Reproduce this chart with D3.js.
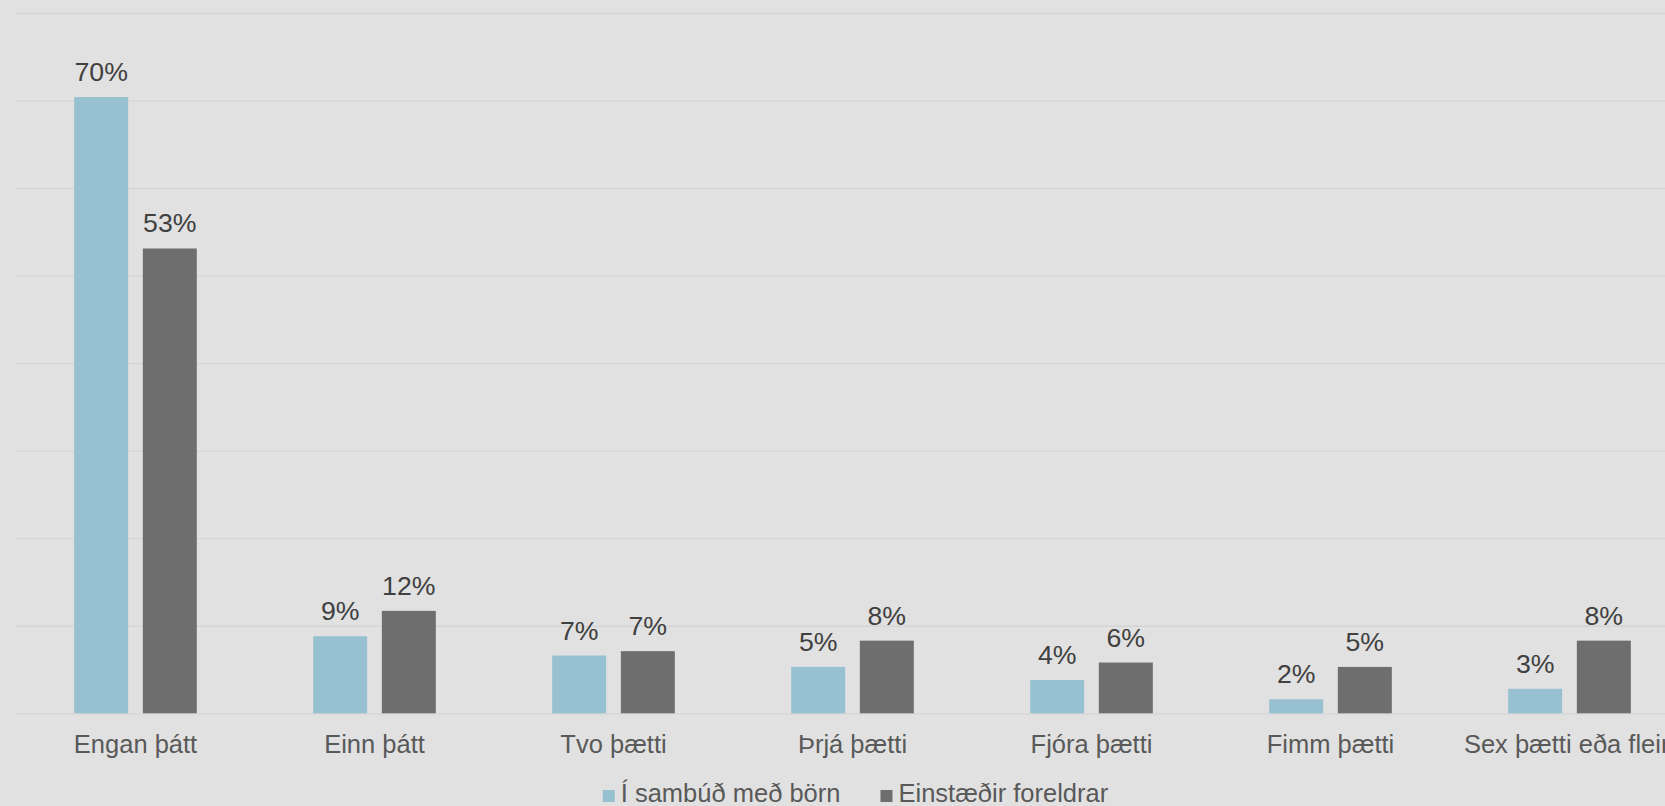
<!DOCTYPE html>
<html>
<head>
<meta charset="utf-8">
<script src="https://cdn.jsdelivr.net/npm/d3@7"></script>
<style>
  html, body { margin: 0; padding: 0; background: #e1e1e1; overflow: hidden; }
  svg { display: block; font-family: "Liberation Sans", Arial, sans-serif; }
</style>
</head>
<body>
<svg id="chart" width="1665" height="806"></svg>
<script>
const categories = ["Engan þátt", "Einn þátt", "Tvo þætti", "Þrjá þætti", "Fjóra þætti", "Fimm þætti", "Sex þætti eða fleiri"];
const seriesNames = ["Í sambúð með börn", "Einstæðir foreldrar"];
const sambudValues = [70.4, 8.8, 6.6, 5.3, 3.8, 1.6, 2.8];
const einstaedirValues = [53.1, 11.7, 7.1, 8.3, 5.8, 5.3, 8.3];
const yTicks = [0, 10, 20, 30, 40, 50, 60, 70, 80];
const colors = ["#97c0d0", "#6e6e6e"];

const svg = d3.select("#chart");
const W = 1665, H = 806;
svg.append("rect").attr("width", W).attr("height", H).attr("fill", "#e1e1e1");

const plotLeft = 16, plotRight = 16 + 7 * 239.0, plotTop = 13, plotBottom = 713.3;

const x0 = d3.scaleBand().domain(categories).range([plotLeft, plotRight])
  .paddingInner(0.487).paddingOuter(0.2435);
const x1 = d3.scaleBand().domain(seriesNames).range([0, x0.bandwidth()]).paddingInner(0.214).paddingOuter(0);
const y = d3.scaleLinear().domain([0, 80]).range([plotBottom, plotTop]);

// gridlines
const grid = d3.axisLeft(y).tickValues(yTicks).tickSize(-(plotRight - plotLeft)).tickFormat("");
const g = svg.append("g").attr("transform", `translate(${plotLeft},0)`).call(grid);
g.select(".domain").remove();
g.selectAll(".tick line").attr("stroke", "#d5d5d5").attr("stroke-width", 1.3);

// category axis
const xa = svg.append("g").attr("transform", `translate(0,${plotBottom})`)
  .call(d3.axisBottom(x0).tickSize(0).tickPadding(0));
xa.select(".domain").remove();
xa.selectAll(".tick text")
  .attr("y", 40).attr("dy", 0)
  .attr("fill", "#595959")
  .style("font-size", "25.5px")
  .style("font-family", "'Liberation Sans', Arial, sans-serif");

const data = categories.map((c, i) => ({ cat: c, vals: [sambudValues[i], einstaedirValues[i]] }));

const groups = svg.append("g").selectAll("g").data(data).join("g")
  .attr("transform", d => `translate(${x0(d.cat)},0)`);

groups.selectAll("rect").data(d => d.vals.map((v, k) => ({ k, v }))).join("rect")
  .attr("x", d => x1(seriesNames[d.k]))
  .attr("y", d => y(d.v))
  .attr("width", x1.bandwidth())
  .attr("height", d => y(0) - y(d.v))
  .attr("fill", d => colors[d.k]);

groups.selectAll("text.val").data(d => d.vals.map((v, k) => ({ k, v }))).join("text")
  .attr("class", "val")
  .attr("x", d => x1(seriesNames[d.k]) + x1.bandwidth() / 2)
  .attr("y", d => y(d.v) - 16)
  .attr("text-anchor", "middle")
  .attr("fill", "#404040")
  .style("font-size", "26.7px")
  .text(d => Math.round(d.v) + "%");

// legend
const legend = svg.append("g");
let cx = 0;
seriesNames.forEach((name, k) => {
  const it = legend.append("g");
  it.append("rect").attr("x", 0).attr("y", -12).attr("width", 12).attr("height", 12).attr("fill", colors[k]);
  const t = it.append("text").attr("x", 18).attr("y", 0).attr("fill", "#595959")
    .style("font-size", "25.5px").text(name);
  const w = 18 + t.node().getComputedTextLength();
  it.attr("transform", `translate(${cx},802)`);
  cx += w + 40;
});
const totalW = cx - 40;
legend.attr("transform", `translate(${855.5 - totalW / 2},0)`);
</script>
</body>
</html>
